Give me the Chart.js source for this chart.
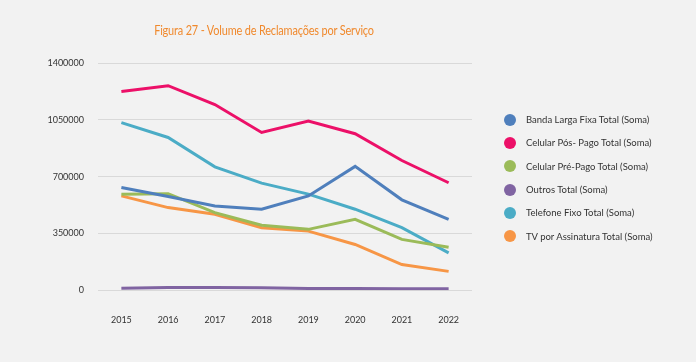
<!DOCTYPE html>
<html><head><meta charset="utf-8">
<script src="https://cdn.jsdelivr.net/npm/chart.js@4"></script>
<style>
html,body{margin:0;padding:0;background:#f2f2f2;}
#wrap{position:relative;width:696px;height:362px;background:#f2f2f2;overflow:hidden;}
#title{position:absolute;left:0;width:528px;top:21px;text-align:center;font-family:Lato,sans-serif;font-size:14px;color:#f0892d;letter-spacing:-0.2px;transform:scaleX(0.78);transform-origin:264px 0;}
#legend{position:absolute;left:504px;top:108px;font-family:Lato,sans-serif;font-size:9.5px;color:#333;}
#legend div{height:23.3px;display:flex;align-items:center;}
#legend span.dot{display:inline-block;width:12px;height:12px;border-radius:50%;margin-right:10px;}
canvas{position:absolute;left:0;top:0;}
</style></head>
<body><div id="wrap">
<canvas id="c" width="696" height="362"></canvas>
<div id="title">Figura 27 - Volume de Reclamações por Serviço</div>
<div id="legend"></div>
</div>
<script>
const years = ['2015','2016','2017','2018','2019','2020','2021','2022'];
const seriesNames = ['Banda Larga Fixa Total (Soma)','Celular Pós- Pago Total (Soma)','Celular Pré-Pago Total (Soma)','Outros Total (Soma)','Telefone Fixo Total (Soma)','TV por Assinatura Total (Soma)'];
const bandaLarga = [633000, 577000, 519000, 499000, 581000, 763000, 557000, 437000];
const celularPos = [1225000, 1260000, 1144000, 972000, 1043000, 964000, 799000, 662000];
const celularPre = [592000, 595000, 478000, 400000, 375000, 437000, 313000, 265000];
const outros = [12000, 16000, 17000, 15000, 11000, 10000, 9000, 9000];
const telefoneFixo = [1033000, 941000, 760000, 660000, 592000, 499000, 385000, 230000];
const tvAssinatura = [581000, 509000, 468000, 385000, 364000, 282000, 158000, 116000];
const yTicks = [0, 350000, 700000, 1050000, 1400000];
const colors = ['#4f7fbc','#ec1068','#9bbb59','#8064a2','#4bacc6','#f79646'];
const allSeries = [bandaLarga, celularPos, celularPre, outros, telefoneFixo, tvAssinatura];

const datasets = allSeries.map((d,i)=>({
  label: seriesNames[i], data: d, borderColor: colors[i], backgroundColor: colors[i],
  borderWidth: 3, pointRadius: 0, tension: 0, fill: false
}));

const chart = new Chart(document.getElementById('c'), {
  type: 'line',
  data: { labels: years, datasets },
  options: {
    responsive: false, animation: false,
    layout: { padding: { left: 0, right: 224, top: 63, bottom: 13 } },
    plugins: { legend: { display: false }, tooltip: { enabled: false }, title: { display: false } },
    scales: {
      x: {
        offset: true,
        grid: { display: false, drawTicks: false },
        border: { display: false },
        ticks: { color: '#333', font: { family: 'Lato', size: 9 }, padding: 24 }
      },
      y: {
        min: 0, max: 1400000,
        afterBuildTicks: s => { s.ticks = yTicks.map(v => ({ value: v })); },
        afterFit: s => { s.width = 98; },
        grid: { color: '#d9d9d9', lineWidth: 1, drawTicks: false },
        border: { display: false },
        ticks: { color: '#333', font: { family: 'Lato', size: 9 }, padding: 14, callback: v => String(v) }
      }
    }
  }
});

const lg = document.getElementById('legend');
chart.data.datasets.forEach(ds => {
  const row = document.createElement('div');
  const dot = document.createElement('span'); dot.className = 'dot'; dot.style.background = ds.borderColor;
  row.appendChild(dot); row.appendChild(document.createTextNode(ds.label));
  lg.appendChild(row);
});
</script>
</body></html>
